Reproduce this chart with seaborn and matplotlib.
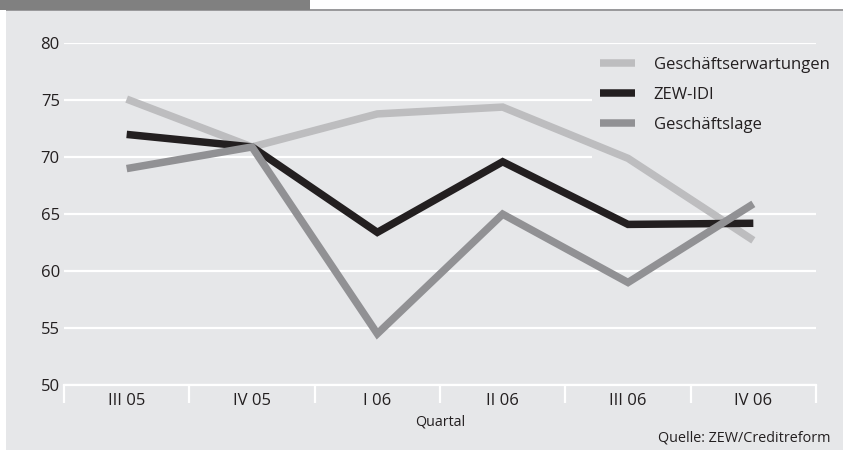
import matplotlib
matplotlib.use("Agg")
import matplotlib.pyplot as plt
from matplotlib.patches import Rectangle
import numpy as np
import pandas as pd
import seaborn as sns

# Quarterly index values
quarters = ["III 05", "IV 05", "I 06", "II 06", "III 06", "IV 06"]
erwartungen = [75.1, 70.9, 73.8, 74.4, 69.9, 62.7]
zew_idi = [72.0, 70.9, 63.4, 69.6, 64.1, 64.2]
lage = [69.0, 70.9, 54.5, 65.0, 59.0, 65.9]

series_names = ["Geschäftserwartungen", "ZEW-IDI", "Geschäftslage"]
series_colors = ["#bdbdbf", "#231f20", "#919194"]
y_ticks = [50, 55, 60, 65, 70, 75, 80]

BG = "#e6e7e9"
TEXT = "#231f20"

sns.set_theme(style="white")
plt.rcParams["font.family"] = ["Open Sans", "DejaVu Sans"]

df = pd.DataFrame({
    "Quartal": quarters * 3,
    "pos": list(range(len(quarters))) * 3,
    "Wert": erwartungen + zew_idi + lage,
    "Reihe": [n for n in series_names for _ in quarters],
})

fig = plt.figure(figsize=(8.43, 4.5), dpi=100, facecolor="white")

# page panel and header strip
fig.patches.append(Rectangle((6 / 843, 0), 1, 1 - 11 / 450, transform=fig.transFigure,
                             facecolor=BG, edgecolor="none", zorder=-3))
fig.patches.append(Rectangle((6 / 843, 1 - 11 / 450), 1, 2.5 / 450, transform=fig.transFigure,
                             facecolor="#9a9a9c", edgecolor="none", zorder=-3))
fig.patches.append(Rectangle((0, 1 - 9.5 / 450), 310 / 843, 9.5 / 450, transform=fig.transFigure,
                             facecolor="#808080", edgecolor="none", zorder=-2))

ax = fig.add_axes([64 / 843, 1 - 385 / 450, 752 / 843, (385 - 43.3) / 450])
ax.set_facecolor("none")

sns.lineplot(data=df, x="pos", y="Wert", hue="Reihe", hue_order=series_names,
             palette=series_colors, linewidth=5.4, sort=False, ax=ax, legend=False,
             zorder=3, solid_joinstyle="miter", solid_capstyle="butt")

ax.set_xlim(-0.5, len(quarters) - 0.5)
ax.set_ylim(50, 80)
ax.set_yticks(y_ticks)
ax.set_yticklabels([str(v) for v in y_ticks])
ax.set_xticks(range(len(quarters)))
ax.set_xticklabels(quarters)
ax.set_xticks(np.arange(-0.5, len(quarters)), minor=True)

ax.grid(axis="y", color="white", linewidth=1.6, zorder=1)
ax.set_axisbelow(True)
for side in ["top", "right", "left"]:
    ax.spines[side].set_visible(False)
ax.spines["bottom"].set_color("white")
ax.spines["bottom"].set_linewidth(1.6)

ax.tick_params(axis="y", length=0, pad=3, labelsize=12, labelcolor=TEXT)
ax.tick_params(axis="x", which="major", bottom=False, length=0, pad=6,
               labelsize=12, labelcolor=TEXT)
ax.tick_params(axis="x", which="minor", bottom=True, length=13, width=1.6,
               color="white", direction="out")

ax.set_xlabel("Quartal", fontsize=10.3, color=TEXT, labelpad=4)
ax.set_ylabel("")

# legend area sits over the gridlines but beneath the lines
ax.add_patch(Rectangle((0.702, 0.60), 0.30, 0.392, transform=ax.transAxes,
                       facecolor=BG, edgecolor="none", zorder=2))
handles = [plt.Line2D([], [], color=c, linewidth=5.4, solid_capstyle="butt")
           for c in series_colors]
leg = ax.legend(handles, series_names, loc="upper left", bbox_to_anchor=(0.713, 0.96),
                frameon=False, fontsize=12, handlelength=2.1, handletextpad=1.1,
                labelspacing=0.85, borderpad=0, borderaxespad=0)
for t in leg.get_texts():
    t.set_color(TEXT)

fig.text(830 / 843, 1 - 438 / 450, "Quelle: ZEW/Creditreform", ha="right", va="center",
         fontsize=10.4, color=TEXT)

fig.savefig("out.png", dpi=100, facecolor="white")
